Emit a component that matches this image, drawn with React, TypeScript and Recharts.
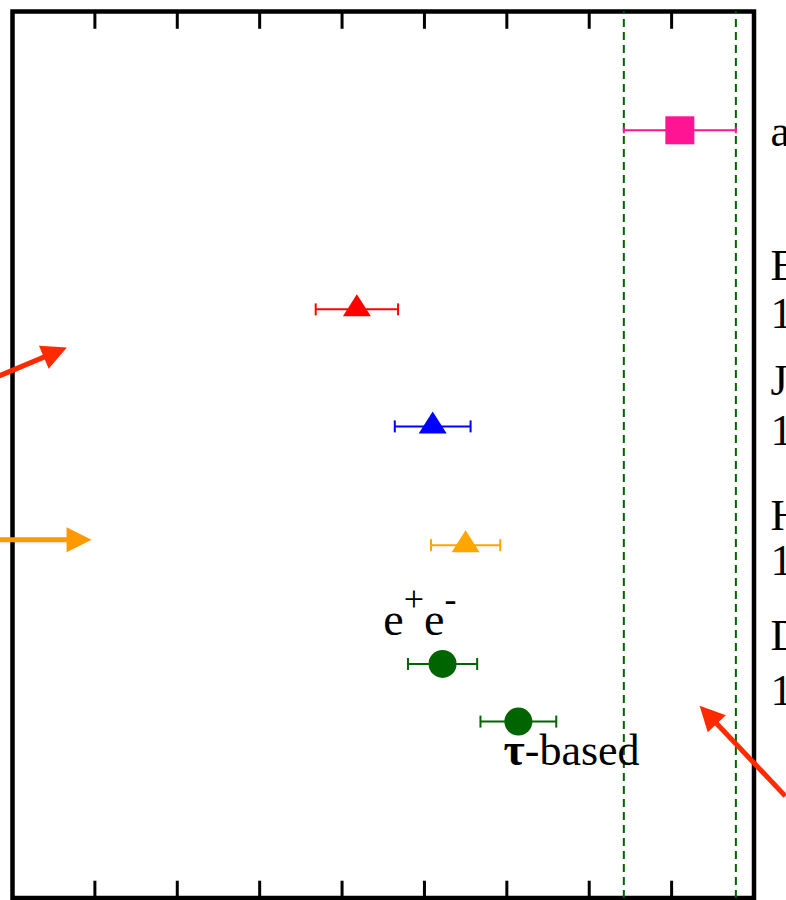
import React from "react";
import {
  ScatterChart,
  Scatter,
  XAxis,
  YAxis,
  ErrorBar,
  ReferenceLine,
  ReferenceDot,
  ReferenceArea,
} from "recharts";

// x: a_mu values (arbitrary offset units), y: row position from the top
const xDomain = [165, 210];
const yDomain = [0, 100];
const xTicks = [170, 175, 180, 185, 190, 195, 200, 205];

const pinkPoint = [{ x: 205.5, y: 13.4, err: 3.4 }];
const redPoint = [{ x: 185.9, y: 33.6, err: 2.5 }];
const bluePoint = [{ x: 190.5, y: 46.8, err: 2.3 }];
const orangePoint = [{ x: 192.5, y: 60.2, err: 2.1 }];
const greenPoints = [
  { x: 191.1, y: 73.6, err: 2.1 },
  { x: 195.7, y: 80.1, err: 2.3 },
];
const bandEdges = [202.1, 208.9];

const sideLabelX = 211;
const sideLabels = [
  { text: "a", y: 15.2 },
  { text: "E", y: 30.3 },
  { text: "1", y: 35.7 },
  { text: "J", y: 43.3 },
  { text: "1", y: 48.9 },
  { text: "H", y: 58.5 },
  { text: "1", y: 63.6 },
  { text: "D", y: 72.0 },
  { text: "1", y: 78.2 },
];

const notes = [
  { id: "ee", x: 187.5, y: 70.3 },
  { id: "tau", x: 194.8, y: 85.0 },
];

const arrows = [
  { from: { x: 164.2, y: 41.1 }, to: { x: 168.3, y: 37.9 }, color: "#FF2A00" },
  { from: { x: 164.2, y: 59.6 }, to: { x: 169.8, y: 59.6 }, color: "#FF9900" },
  { from: { x: 211.9, y: 88.5 }, to: { x: 206.7, y: 78.3 }, color: "#FF2A00" },
];

const tickLen = 1.95; // in y units (~17px)

const serif = "'Liberation Serif', 'DejaVu Serif', serif";

const triangle = (color: string) => (p: any) =>
  (
    <polygon
      points={`${p.cx},${p.cy - 15} ${p.cx - 14},${p.cy + 7} ${p.cx + 14},${p.cy + 7}`}
      fill={color}
    />
  );

const square = (color: string) => (p: any) =>
  <rect x={p.cx - 14.5} y={p.cy - 14} width={29} height={28} fill={color} />;

const circle = (color: string) => (p: any) =>
  <circle cx={p.cx} cy={p.cy} r={14} fill={color} />;

const arrowShape = (color: string) => (p: any) => {
  const { x1, y1, x2, y2 } = p;
  const len = Math.hypot(x2 - x1, y2 - y1);
  const ux = (x2 - x1) / len;
  const uy = (y2 - y1) / len;
  const headLen = 25;
  const half = 12.5;
  const bx = x2 - ux * headLen;
  const by = y2 - uy * headLen;
  return (
    <g>
      <line x1={x1} y1={y1} x2={bx + ux * 2} y2={by + uy * 2} stroke={color} strokeWidth={5} />
      <polygon
        points={`${x2},${y2} ${bx - uy * half},${by + ux * half} ${bx + uy * half},${by - ux * half}`}
        fill={color}
      />
    </g>
  );
};

const noteShape = (id: string) => (p: any) => {
  if (id === "ee") {
    return (
      <text x={p.cx} y={p.cy} fontFamily={serif} fontSize={46} fill="#000">
        <tspan>e</tspan>
        <tspan dy={-24} fontSize={36}>+</tspan>
        <tspan dy={24}>e</tspan>
        <tspan dy={-24} fontSize={36}>-</tspan>
      </text>
    );
  }
  return (
    <text x={p.cx} y={p.cy} fontFamily={serif} fontSize={44} fill="#000">
      <tspan fontWeight="bold" fontSize={46}>τ</tspan>
      <tspan>-based</tspan>
    </text>
  );
};

const sideShape = (text: string) => (p: any) =>
  (
    <text x={p.cx} y={p.cy} fontFamily={serif} fontSize={44} fill="#000">
      {text}
    </text>
  );

export default function App() {
  return (
    <div
      style={{
        position: "fixed",
        left: 0,
        top: 0,
        width: 786,
        height: 900,
        overflow: "hidden",
        background: "#fff",
      }}
    >
      <ScatterChart
        width={786}
        height={900}
        margin={{ top: 11.5, right: 32, bottom: 2, left: 12.5 }}
      >
        <XAxis
          xAxisId="b"
          dataKey="x"
          type="number"
          domain={xDomain}
          allowDataOverflow
          hide
        />
        <YAxis
          yAxisId="l"
          dataKey="y"
          type="number"
          domain={yDomain}
          reversed
          allowDataOverflow
          hide
        />

        {bandEdges.map((v) => (
          <ReferenceLine
            key={v}
            x={v}
            xAxisId="b"
            yAxisId="l"
            stroke="#006400"
            strokeWidth={2}
            strokeDasharray="8 5"
          />
        ))}

        {xTicks.map((t) => (
          <ReferenceLine
            key={"top" + t}
            xAxisId="b"
            yAxisId="l"
            segment={[
              { x: t, y: yDomain[0] },
              { x: t, y: yDomain[0] + tickLen },
            ]}
            stroke="#000"
            strokeWidth={3}
          />
        ))}
        {xTicks.map((t) => (
          <ReferenceLine
            key={"bot" + t}
            xAxisId="b"
            yAxisId="l"
            segment={[
              { x: t, y: yDomain[1] - tickLen },
              { x: t, y: yDomain[1] },
            ]}
            stroke="#000"
            strokeWidth={3}
          />
        ))}

        <ReferenceArea
          xAxisId="b"
          yAxisId="l"
          x1={xDomain[0]}
          x2={xDomain[1]}
          y1={yDomain[0]}
          y2={yDomain[1]}
          ifOverflow="visible"
          fill="none"
          fillOpacity={0}
          stroke="#000"
          strokeWidth={4.5}
          strokeOpacity={1}
        />

        <Scatter data={pinkPoint} xAxisId="b" yAxisId="l" shape={square("#FF1493")} isAnimationActive={false}>
          <ErrorBar dataKey="err" direction="x" width={3} stroke="#FF1493" strokeWidth={2} />
        </Scatter>
        <Scatter data={redPoint} xAxisId="b" yAxisId="l" shape={triangle("#FF0000")} isAnimationActive={false}>
          <ErrorBar dataKey="err" direction="x" width={6} stroke="#FF0000" strokeWidth={2} />
        </Scatter>
        <Scatter data={bluePoint} xAxisId="b" yAxisId="l" shape={triangle("#0000FF")} isAnimationActive={false}>
          <ErrorBar dataKey="err" direction="x" width={6} stroke="#0000FF" strokeWidth={2} />
        </Scatter>
        <Scatter data={orangePoint} xAxisId="b" yAxisId="l" shape={triangle("#FFA500")} isAnimationActive={false}>
          <ErrorBar dataKey="err" direction="x" width={6} stroke="#FFA500" strokeWidth={2} />
        </Scatter>
        <Scatter data={greenPoints} xAxisId="b" yAxisId="l" shape={circle("#006400")} isAnimationActive={false}>
          <ErrorBar dataKey="err" direction="x" width={6} stroke="#006400" strokeWidth={2} />
        </Scatter>

        {arrows.map((a, i) => (
          <ReferenceLine
            key={i}
            xAxisId="b"
            yAxisId="l"
            segment={[a.from, a.to]}
            ifOverflow="visible"
            shape={arrowShape(a.color)}
          />
        ))}

        {notes.map((n) => (
          <ReferenceDot
            key={n.id}
            x={n.x}
            y={n.y}
            xAxisId="b"
            yAxisId="l"
            ifOverflow="visible"
            shape={noteShape(n.id)}
          />
        ))}

        {sideLabels.map((s, i) => (
          <ReferenceDot
            key={i}
            x={sideLabelX}
            y={s.y}
            xAxisId="b"
            yAxisId="l"
            ifOverflow="visible"
            shape={sideShape(s.text)}
          />
        ))}
      </ScatterChart>
    </div>
  );
}
